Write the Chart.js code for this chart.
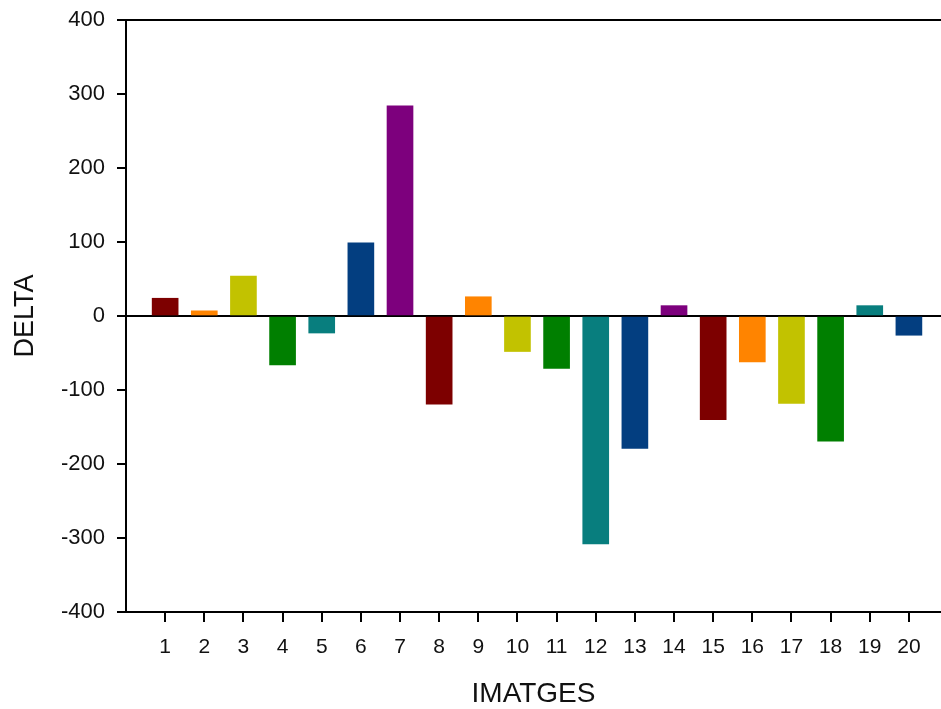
<!DOCTYPE html>
<html>
  <head>
    <title>DELTA per imatge</title>
    <script src="https://cdn.jsdelivr.net/npm/chart.js"></script>
    <style>
      body { margin: 0; background: #fff; }
    </style>
  </head>
  <body>
    <canvas id="deltaChart" width="941" height="709"></canvas>

    <script>
      // categories (image number) and the delta value of each one
      const imatges = ["1", "2", "3", "4", "5", "6", "7", "8", "9", "10",
                       "11", "12", "13", "14", "15", "16", "17", "18", "19", "20"];
      const delta = [24, 7, 54, -66, -23, 99, 284, -119, 26, -48,
                     -71, -308, -179, 14, -140, -62, -118, -169, 14, -26];
      const yTicks = [-400, -300, -200, -100, 0, 100, 200, 300, 400];
      const palette = ["#7d0000", "#ff8400", "#c2c200", "#007f00", "#087e7e", "#033e80", "#7d007d"];

      const font = "'Liberation Sans', Arial, sans-serif";

      const ctx = document.getElementById("deltaChart").getContext("2d");
      new Chart(ctx, {
        type: "bar",
        data: {
          datasets: [
            {
              data: delta.map((v, i) => ({ x: i + 1, y: v })),
              backgroundColor: imatges.map((c, i) => palette[i % palette.length]),
              barThickness: 26,
              borderWidth: 0,
            },
          ],
        },
        options: {
          responsive: false,
          animation: false,
          layout: { padding: { top: 20, right: 0, left: 0, bottom: 0 } },
          plugins: { legend: { display: false }, tooltip: { enabled: false } },
          scales: {
            x: {
              type: "linear",
              min: 0,
              max: 20.82,
              offset: false,
              afterBuildTicks: (scale) => {
                scale.ticks = imatges.map((c, i) => ({ value: i + 1 }));
              },
              afterFit: (scale) => {
                scale.height = 97;
              },
              border: { display: true, color: "#000", width: 2 },
              grid: {
                offset: false,
                drawOnChartArea: false,
                drawTicks: true,
                tickLength: 10,
                tickColor: "#000",
                lineWidth: 2,
              },
              ticks: {
                autoSkip: false,
                maxRotation: 0,
                padding: 13,
                color: "#111",
                font: { family: font, size: 21 },
                callback: (value) => imatges[value - 1],
              },
              title: {
                display: true,
                text: "IMATGES",
                color: "#111",
                font: { family: font, size: 28 },
                padding: { top: 0, bottom: -2 },
              },
            },
            y: {
              min: -400,
              max: 400,
              afterBuildTicks: (scale) => {
                scale.ticks = yTicks.map((v) => ({ value: v }));
              },
              afterFit: (scale) => {
                scale.width = 126;
                // let the top label overflow into the layout padding
                scale.paddingTop = 14;
                scale.paddingBottom = 0;
              },
              border: { display: true, color: "#000", width: 2 },
              grid: {
                // only the zero line and the top frame line are drawn
                color: (c) => (c.tick && (c.tick.value === 0 || c.tick.value === 400) ? "#000" : "rgba(0,0,0,0)"),
                lineWidth: 2,
                drawTicks: true,
                tickLength: 9,
                tickColor: "#000",
              },
              ticks: {
                padding: 12,
                color: "#111",
                font: { family: font, size: 22 },
              },
              title: {
                display: true,
                text: "DELTA",
                color: "#111",
                font: { family: font, size: 27 },
                padding: { top: 9, bottom: 0 },
              },
            },
          },
        },
      });
    </script>
  </body>
</html>
